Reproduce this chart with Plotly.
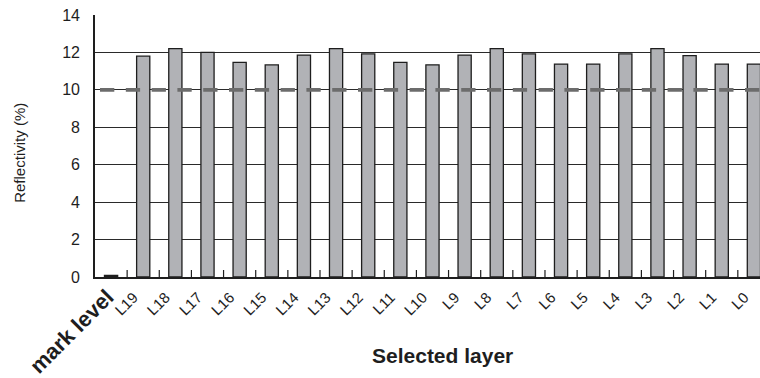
import plotly.graph_objects as go

# Reflectivity per selected layer (%)
layers = ["mark level", "L19", "L18", "L17", "L16", "L15", "L14", "L13", "L12", "L11",
          "L10", "L9", "L8", "L7", "L6", "L5", "L4", "L3", "L2", "L1", "L0"]
reflectivity = [0.08, 11.8, 12.2, 12.0, 11.47, 11.33, 11.86, 12.2, 11.92, 11.47,
                11.34, 11.86, 12.2, 11.92, 11.38, 11.38, 11.92, 12.2, 11.83, 11.38, 11.38]
threshold = 10.0
y_ticks = [0, 2, 4, 6, 8, 10, 12, 14]

FONT = "Liberation Sans, Arial, sans-serif"
INK = "#1e1e1e"
X_RANGE = [-0.5, 20.19]

positions = list(range(len(layers)))
# slanted labels sit a little left of each bar, so the text ends under it
label_pos = [p - (0.04 if i == 0 else 0.3) for i, p in enumerate(positions)]
# small tick marks on the boundaries between categories
boundaries = [p + 0.5 for p in positions]
tick_text = ['<b><span style="font-size:22px">%s</span></b>' % layers[0]] + layers[1:]

fig = go.Figure()
fig.add_trace(go.Bar(
    x=positions,
    y=reflectivity,
    width=0.41,
    marker=dict(color="#b1b2b6", line=dict(color=INK, width=1.3)),
    showlegend=False,
))

# boundary tick marks: vertical line markers on the baseline, clipped to the plot
fig.add_trace(go.Scatter(
    x=boundaries, y=[0] * len(boundaries),
    mode="markers", cliponaxis=True,
    marker=dict(symbol="line-ns", size=10, color=INK,
                line=dict(color=INK, width=1.2)),
    showlegend=False, hoverinfo="skip",
))

# dashed reference level, drawn above the bars
fig.add_shape(type="line", xref="x", yref="y",
              x0=-0.344, x1=X_RANGE[1], y0=threshold, y1=threshold,
              line=dict(color="#6c6c6c", width=3.6, dash="14.3px,11.5px"),
              layer="above")

fig.update_layout(
    xaxis=dict(
        range=X_RANGE,
        automargin=False,
        tickmode="array",
        tickvals=label_pos,
        ticktext=tick_text,
        tickangle=-45,
        ticks="",
        ticklabelstandoff=4,
        ticklabeloverflow="allow",
        showline=True, linecolor=INK, linewidth=1.6,
        showgrid=False, zeroline=False,
        tickfont=dict(family=FONT, size=15, color=INK),
    ),
    yaxis=dict(
        range=[0, 14],
        automargin=False,
        tickvals=y_ticks,
        showline=True, linecolor=INK, linewidth=1.6,
        showgrid=True, gridcolor="#2a2a2a", gridwidth=1,
        zeroline=False, ticks="",
        ticklabelstandoff=10,
        tickfont=dict(family=FONT, size=16, color=INK),
    ),
)

fig.add_annotation(text="<b>Selected layer</b>", xref="paper", yref="paper",
                   x=0.523, y=-0.298, xanchor="center", yanchor="middle",
                   showarrow=False, font=dict(family=FONT, size=21, color=INK))
fig.add_annotation(text="Reflectivity (%)", xref="paper", yref="paper",
                   x=-0.1128, y=0.474, xanchor="center", yanchor="middle", textangle=-90,
                   showarrow=False, font=dict(family=FONT, size=15, color=INK))

fig.update_layout(
    width=760, height=378,
    margin=dict(l=95, r=0, t=15, b=101),
    paper_bgcolor="white", plot_bgcolor="white",
)

fig.write_html("out.html")
